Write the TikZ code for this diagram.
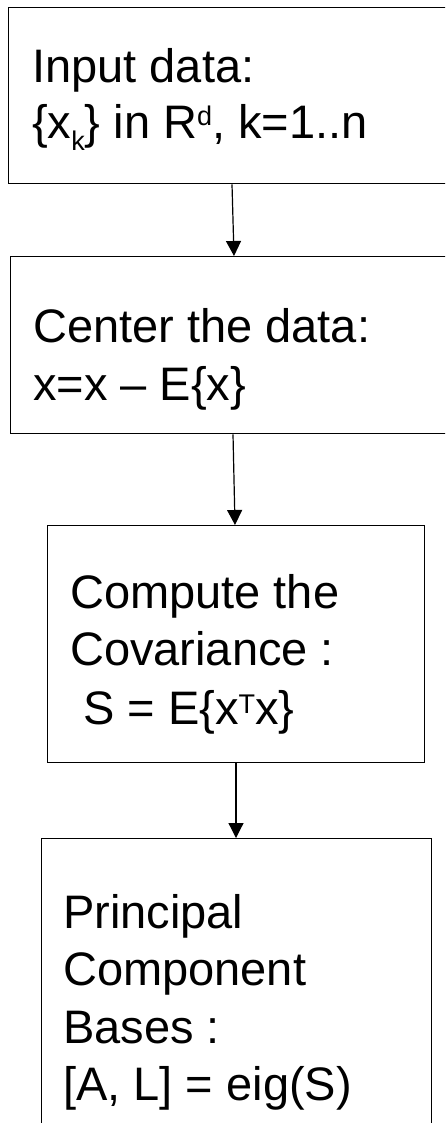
\documentclass[tikz,border=0pt]{standalone}
\usepackage{fontspec}
\setmainfont{Liberation Sans}
\usetikzlibrary{arrows.meta}
\newcommand{\supx}[2][13pt]{\raisebox{#1}{\fontsize{27}{27}\selectfont #2}}
\newcommand{\subx}[2][-12pt]{\raisebox{#1}{\fontsize{27}{27}\selectfont #2}}
\tikzset{
  stepbox/.style={draw=black, line width=1.3pt},
  line/.style={font=\fontsize{47}{56}\selectfont, anchor=base west, inner sep=0pt},
  arr/.style={draw=black, line width=1.2pt, -{Triangle[length=15pt,width=15pt]}, shorten >=0pt}
}
\begin{document}
\begin{tikzpicture}[x=1pt,y=1pt]
\useasboundingbox (0,0) rectangle (445,-1123);
\begin{scope}
\clip (0,0) rectangle (445,-1123);
% boxes
\node[stepbox, minimum width=452pt, minimum height=176pt, anchor=north west, inner sep=0pt] (b1) at (8,-7) {};
\node[stepbox, minimum width=450pt, minimum height=177pt, anchor=north west, inner sep=0pt] (b2) at (10,-256) {};
\node[stepbox, minimum width=377pt, minimum height=237pt, anchor=north west, inner sep=0pt] (b3) at (47,-525) {};
\node[stepbox, minimum width=390pt, minimum height=300pt, anchor=north west, inner sep=0pt] (b4) at (41,-838) {};
\end{scope}
% box 1 text
\node[line] (t11) at (32,-83) {Input data:};
\node[line] (t12) at (32,-139) {\{x\subx{k}\} in R\supx{d}, k=1..n};
% box 2 text
\node[line] (t21) at (33,-342) {Center the data:};
\node[line] (t22) at (33,-400) {x=x – E\{x\}};
% box 3 text
\node[line] (t31) at (70,-608) {Compute the};
\node[line] (t32) at (70,-665) {Covariance :};
\node[line] (t33) at (70,-724) {\ S = E\{x\supx[11pt]{T}x\}};
% box 4 text
\node[line] (t41) at (63,-928) {Principal};
\node[line] (t42) at (63,-985) {Component};
\node[line] (t43) at (63,-1043) {Bases :};
\node[line] (t44) at (63,-1100) {[A, L] = eig(S)};
% connectors
\draw[arr] (b1.south west -| 232,0) -- (b2.north west -| 234,0);
\draw[arr] (b2.south west -| 233,0) -- (b3.north west -| 235,0);
\draw[arr] (b3.south west -| 236,0) -- (b4.north west -| 236,0);
\end{tikzpicture}
\end{document}
